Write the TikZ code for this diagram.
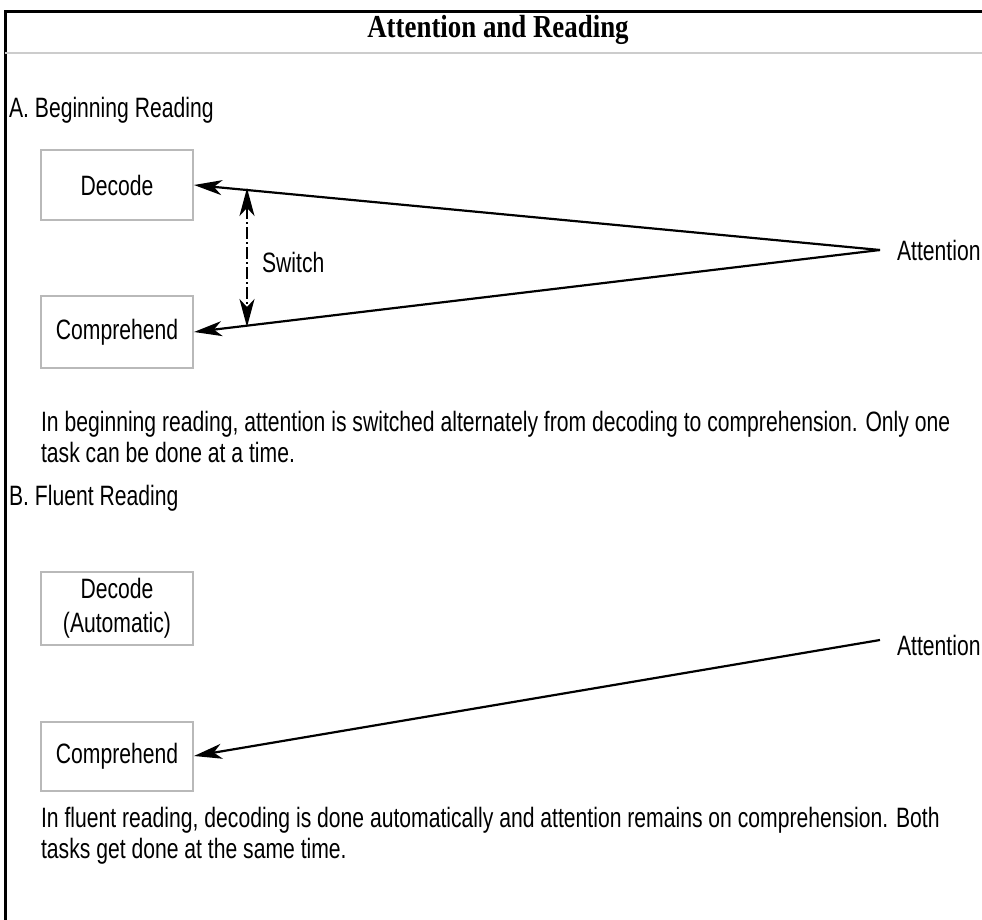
\documentclass[tikz,border=0pt]{standalone}
\usepackage{fontspec}
\setmainfont{Liberation Sans}[FakeStretch=0.755]
\newfontfamily\headfont{Liberation Serif}[FakeStretch=0.84]
\usetikzlibrary{arrows.meta}
\begin{document}
\begin{tikzpicture}[x=0.5pt,y=-0.5pt,>={Stealth[length=14pt,width=7.5pt,inset=4pt]},line width=1.1pt,
  box/.style={draw=gray!55,line width=1pt,minimum width=76pt,minimum height=35pt,inner sep=0pt,
    align=center,font=\fontsize{14}{17}\selectfont},
  txt/.style={anchor=west,inner sep=0pt,align=left,font=\fontsize{14}{15.7}\selectfont}]
\useasboundingbox (0,0) rectangle (982,920);
\draw[line width=1.5pt] (5,920) -- (5,12) -- (982,12);
\node[inner sep=0pt,font=\headfont\bfseries\fontsize{16}{18}\selectfont] (title) at (498,30) {Attention and Reading};
\draw[gray!40,line width=1.2pt] (5,53) -- (982,53);
\node[txt] (secA) at (8,110) {A. Beginning Reading};
\node[box,minimum height=35pt] (decA) at (117,185) {Decode};
\node[box,minimum height=36pt] (compA) at (117,332) {Comprehend};
\node[txt] (attA) at (896,250) {Attention};
\coordinate (fa) at (880,250);
\draw[->] (fa) -- (decA.east);
\draw[->] (fa) -- (compA.east);
\coordinate (swt) at (247,188);
\coordinate (swb) at (247,327);
\draw[<->,line width=1pt,dash pattern=on 6pt off 1.5pt on 1pt off 1.5pt] (swt) -- (swb);
\node[txt] (sw) at (261,262) {Switch};
\node[txt] (capA) at (40,437) {In beginning reading, attention is switched alternately from decoding to comprehension. Only one\\task can be done at a time.};
\node[txt] (secB) at (8,498) {B. Fluent Reading};
\node[box,minimum height=36.5pt] (decB) at (117,608) {Decode\\(Automatic)};
\node[box,minimum height=34.5pt] (compB) at (117,756) {Comprehend};
\node[txt] (attB) at (896,645) {Attention};
\coordinate (fb) at (880,640);
\draw[->] (fb) -- (compB.east);
\node[txt] (capB) at (40,836) {In fluent reading, decoding is done automatically and attention remains on comprehension. Both\\tasks get done at the same time.};
\end{tikzpicture}
\end{document}
